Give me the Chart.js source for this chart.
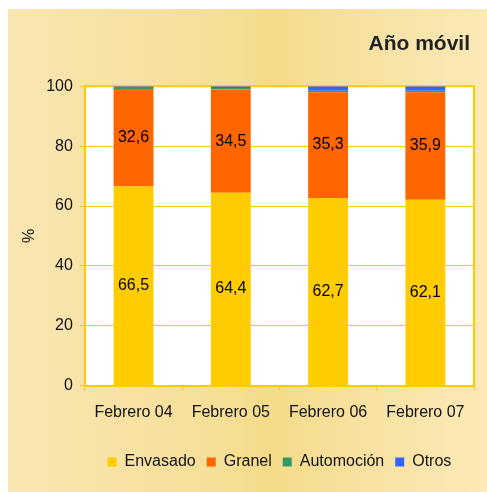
<!DOCTYPE html>
<html>
<head>
<meta charset="utf-8">
<script src="https://cdn.jsdelivr.net/npm/chart.js@4"></script>
<style>
  body { margin: 0; background: #fff; }
  #panel {
    position: absolute; left: 8px; top: 9px; width: 479px; height: 483px;
    background: linear-gradient(to right, #f9e6b3 0%, #f6df96 45%, #f5db8a 55%, #f8e4a6 80%, #fbe9b8 100%);
  }
</style>
</head>
<body>
<div id="panel"><canvas id="c" width="479" height="483"></canvas></div>
<script>
// valores (%)
const periodos = ['Febrero 04', 'Febrero 05', 'Febrero 06', 'Febrero 07'];
const envasado = [66.5, 64.4, 62.7, 62.1];
const granel = [32.6, 34.5, 35.3, 35.9];
const automocion = [0.6, 0.5, 0.5, 0.5];
const otros = [0.3, 0.6, 1.5, 1.5];
const ticksY = [0, 20, 40, 60, 80, 100];

const amarillo = '#ffcc00';
const fuente = 'Arial, "Liberation Sans", sans-serif';

// fondo blanco y marco superior y derecho del área de trazado
const marco = {
  id: 'marco',
  beforeDraw(chart) {
    const { ctx, chartArea: a } = chart;
    ctx.save();
    ctx.fillStyle = '#fff';
    ctx.fillRect(a.left, a.top, a.right - a.left, a.bottom - a.top);
    ctx.restore();
  },
  beforeDatasetsDraw(chart) {
    const { ctx, chartArea: a } = chart;
    ctx.save();
    ctx.strokeStyle = amarillo;
    ctx.lineWidth = 2;
    ctx.beginPath();
    ctx.moveTo(a.left, a.top);
    ctx.lineTo(a.right, a.top);
    ctx.lineTo(a.right, a.bottom);
    ctx.stroke();
    ctx.restore();
  }
};

// etiquetas de valor en Envasado y Granel
const etiquetas = {
  id: 'etiquetas',
  afterDatasetsDraw(chart) {
    const ctx = chart.ctx;
    ctx.save();
    ctx.font = '16px ' + fuente;
    ctx.fillStyle = '#000';
    ctx.textAlign = 'center';
    ctx.textBaseline = 'middle';
    [0, 1].forEach(i => {
      const meta = chart.getDatasetMeta(i);
      meta.data.forEach((bar, j) => {
        const p = bar.getCenterPoint();
        const v = chart.data.datasets[i].data[j];
        ctx.fillText(v.toFixed(1).replace('.', ','), p.x, p.y);
      });
    });
    ctx.restore();
  }
};

// centra la leyenda bajo el área de trazado y ajusta el título
const posiciones = {
  id: 'posiciones',
  afterLayout(chart) {
    const lg = chart.legend;
    const centro = (chart.chartArea.left + chart.chartArea.right) / 2;
    const d = centro - (lg.left + lg.right) / 2;
    lg.left += d;
    lg.right += d;
    chart.titleBlock.left -= 4;
    chart.titleBlock.right -= 4;
  }
};

new Chart(document.getElementById('c'), {
  type: 'bar',
  data: {
    labels: periodos,
    datasets: [
      { label: 'Envasado', data: envasado, backgroundColor: amarillo },
      { label: 'Granel', data: granel, backgroundColor: '#ff6600' },
      { label: 'Automoción', data: automocion, backgroundColor: '#339966' },
      { label: 'Otros', data: otros, backgroundColor: '#3366ff' }
    ]
  },
  options: {
    responsive: false,
    animation: false,
    layout: { padding: { left: 0, right: 13, top: 0, bottom: 12 } },
    datasets: { bar: { barPercentage: 0.41, categoryPercentage: 1 } },
    scales: {
      x: {
        stacked: true,
        grid: { drawOnChartArea: false, color: amarillo, tickLength: 5 },
        border: { color: amarillo, width: 2 },
        ticks: { color: '#111', font: { family: fuente, size: 16 }, padding: 12 },
        afterFit(axis) { axis.height += 9; }
      },
      y: {
        stacked: true,
        min: 0, max: 100,
        afterBuildTicks(axis) { axis.ticks = ticksY.map(v => ({ value: v })); },
        grid: { color: amarillo, lineWidth: 1, tickLength: 5 },
        border: { color: amarillo, width: 2 },
        ticks: { color: '#111', font: { family: fuente, size: 16 }, padding: 7 },
        title: { display: true, text: '%', color: '#111', font: { family: fuente, size: 16 }, padding: { top: 12, bottom: 0 } }
      }
    },
    plugins: {
      title: {
        display: true, text: 'Año móvil', align: 'end', color: '#222',
        font: { family: fuente, size: 21, weight: 'bold' },
        padding: { top: 23, bottom: 29 }
      },
      legend: {
        position: 'bottom',
        labels: { boxWidth: 9, boxHeight: 9, padding: 11, color: '#111', font: { family: fuente, size: 16 } }
      },
      tooltip: { enabled: false }
    }
  },
  plugins: [marco, etiquetas, posiciones]
});
</script>
</body>
</html>
